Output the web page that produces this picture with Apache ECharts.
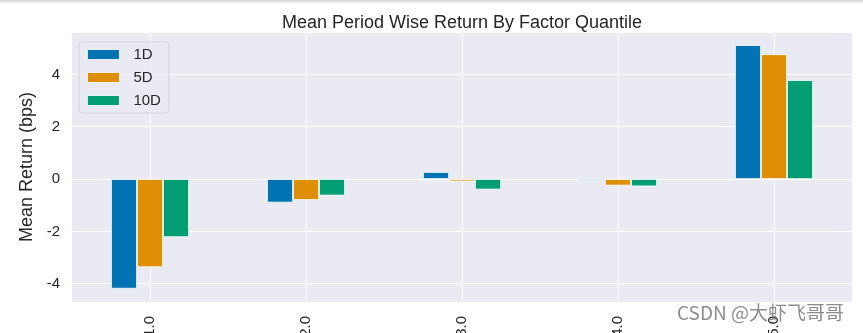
<!DOCTYPE html>
<html>
<head>
<meta charset="utf-8">
<script src="https://cdn.jsdelivr.net/npm/echarts@6/dist/echarts.min.js"></script>
<style>
html,body{margin:0;padding:0;background:#fff;}
#chart{width:863px;height:333px;}
</style>
</head>
<body>
<div id="chart"></div>
<script>
const categories = ['1.0', '2.0', '3.0', '4.0', '5.0'];
const seriesNames = ['1D', '5D', '10D'];
const values1D = [-4.19, -0.90, 0.27, -0.07, 5.12];
const values5D = [-3.37, -0.80, -0.09, -0.25, 4.77];
const values10D = [-2.22, -0.63, -0.40, -0.28, 3.78];
const colors = ['#0173B2', '#DE8F05', '#029E73'];
const allValues = [values1D, values5D, values10D];

const FONT = '"Liberation Sans", Arial, sans-serif';
const TXT = '#262626';

const chart = echarts.init(document.getElementById('chart'), null, {renderer: 'canvas'});
const option = {
  backgroundColor: '#ffffff',
  animation: false,
  title: {
    text: 'Mean Period Wise Return By Factor Quantile',
    left: 457, top: 9, textAlign: 'center',
    textStyle: {fontFamily: FONT, fontSize: 18, fontWeight: 'normal', color: TXT}
  },
  grid: {left: 72, right: 11, top: 32, bottom: 31, containLabel: false, outerBoundsMode: 'none',
         show: true, backgroundColor: '#EAEAF2', borderWidth: 0},
  legend: {
    orient: 'vertical', left: 79, top: 42,
    data: seriesNames, icon: 'rect',
    itemWidth: 32, itemHeight: 10, itemGap: 8,
    itemStyle: {borderColor: '#ffffff', borderWidth: 0.8},
    textStyle: {fontFamily: FONT, fontSize: 15, color: TXT, padding: [0, 0, 0, 9]},
    backgroundColor: 'rgba(234,234,242,0.8)', borderColor: '#d4d4dc', borderWidth: 1,
    borderRadius: 3, padding: [5, 8, 5, 8]
  },
  xAxis: {
    type: 'category', data: categories, boundaryGap: true,
    axisLine: {show: false}, axisTick: {show: false},
    splitLine: {show: true, alignWithLabel: true, lineStyle: {color: '#ffffff', width: 1}},
    axisLabel: {rotate: 90, margin: 14, fontFamily: FONT, fontSize: 15, color: TXT}
  },
  yAxis: {
    type: 'value', min: -4.7, max: 5.62,
    name: 'Mean Return (bps)', nameLocation: 'middle', nameGap: 30,
    nameTextStyle: {fontFamily: FONT, fontSize: 18, color: TXT},
    axisLine: {show: false}, axisTick: {show: false},
    splitLine: {show: true, lineStyle: {color: '#ffffff', width: 1}},
    axisLabel: {fontFamily: FONT, fontSize: 15, color: TXT, margin: 12,
      formatter: v => (Math.abs(Math.round(v) - v) < 1e-9 && Math.round(v) % 2 === 0) ? String(Math.round(v)) : ''}
  },
  series: seriesNames.map((n, i) => ({
    name: n, type: 'bar', data: allValues[i],
    barWidth: 26, barGap: '0%',
    itemStyle: {color: colors[i], borderColor: '#ffffff', borderWidth: 0.8}
  })),
  graphic: [
    {type: 'rect', left: 0, top: 0, z: 100, silent: true,
     shape: {width: 863, height: 4},
     style: {fill: new echarts.graphic.LinearGradient(0, 0, 0, 1, [{offset: 0, color: 'rgba(0,0,0,0.18)'}, {offset: 1, color: 'rgba(0,0,0,0)'}])}},
    {type: 'text', left: 677, top: 303, z: 100, silent: true,
     style: {text: 'CSDN @大虾飞哥哥', fill: 'rgba(120,120,120,0.85)', font: '19px "Noto Sans CJK SC", "Liberation Sans", sans-serif'}}
  ]
};
chart.setOption(option);
</script>
</body>
</html>
